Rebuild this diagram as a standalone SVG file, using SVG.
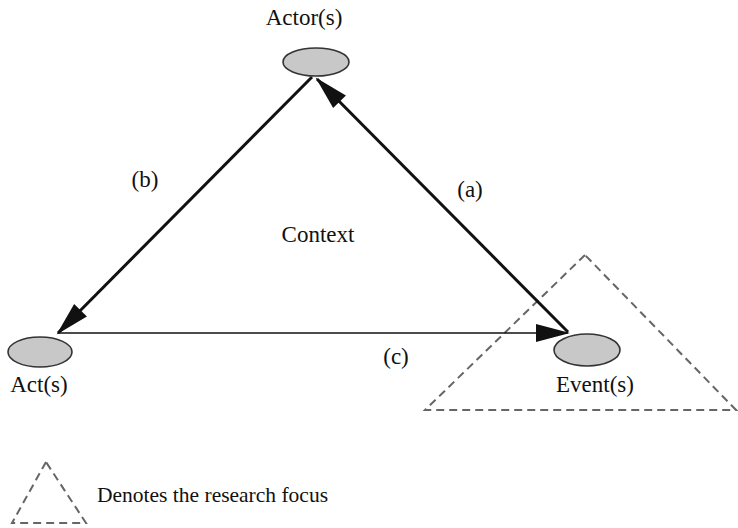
<svg xmlns="http://www.w3.org/2000/svg" width="738" height="528" viewBox="0 0 738 528">
<style>
text{font-family:"Liberation Serif","Times New Roman",serif;fill:#111;}
.lbl{font-size:23px;}
.node ellipse{fill:#c8c8c8;stroke:#333;stroke-width:1.6;}
.thick{stroke:#111;stroke-width:3;fill:none;}
.thin{stroke:#111;stroke-width:1.5;fill:none;}
.dash{stroke:#666;stroke-width:2;fill:none;stroke-dasharray:8 5;}
</style>
<defs>
<marker id="ah" markerUnits="userSpaceOnUse" markerWidth="36" markerHeight="20" viewBox="0 0 34 20" refX="32" refY="10" orient="auto">
<path d="M0,1 L34,10 L0,19 Z" fill="#111"/>
</marker>
</defs>
<rect width="738" height="528" fill="#fff"/>
<g id="focus">
<polygon class="dash" points="585,255 425,410 736,410"/>
</g>
<g id="connectors">
<line class="thick" x1="568" y1="332" x2="317" y2="79" marker-end="url(#ah)"/>
<line class="thick" x1="312" y1="77" x2="58" y2="333" marker-end="url(#ah)"/>
<line class="thin" x1="58" y1="333" x2="568" y2="333" marker-end="url(#ah)"/>
</g>
<g id="actor" class="node">
<ellipse cx="316" cy="62" rx="33" ry="14"/>
<text class="lbl" x="304" y="25" text-anchor="middle">Actor(s)</text>
</g>
<g id="act" class="node">
<ellipse cx="40" cy="352" rx="32" ry="15"/>
<text class="lbl" x="39" y="392" text-anchor="middle">Act(s)</text>
</g>
<g id="event" class="node">
<ellipse cx="587" cy="350" rx="33" ry="16"/>
<text class="lbl" x="595" y="392" text-anchor="middle">Event(s)</text>
</g>
<g id="labels">
<text class="lbl" x="145" y="187" text-anchor="middle">(b)</text>
<text class="lbl" x="470" y="197" text-anchor="middle">(a)</text>
<text class="lbl" x="396" y="364" text-anchor="middle">(c)</text>
<text class="lbl" x="318" y="242" text-anchor="middle">Context</text>
</g>
<g id="legend">
<polygon class="dash" points="46,462 12,523 86,523"/>
<text class="lbl" x="97" y="502" style="font-size:21.5px">Denotes the research focus</text>
</g>
</svg>
